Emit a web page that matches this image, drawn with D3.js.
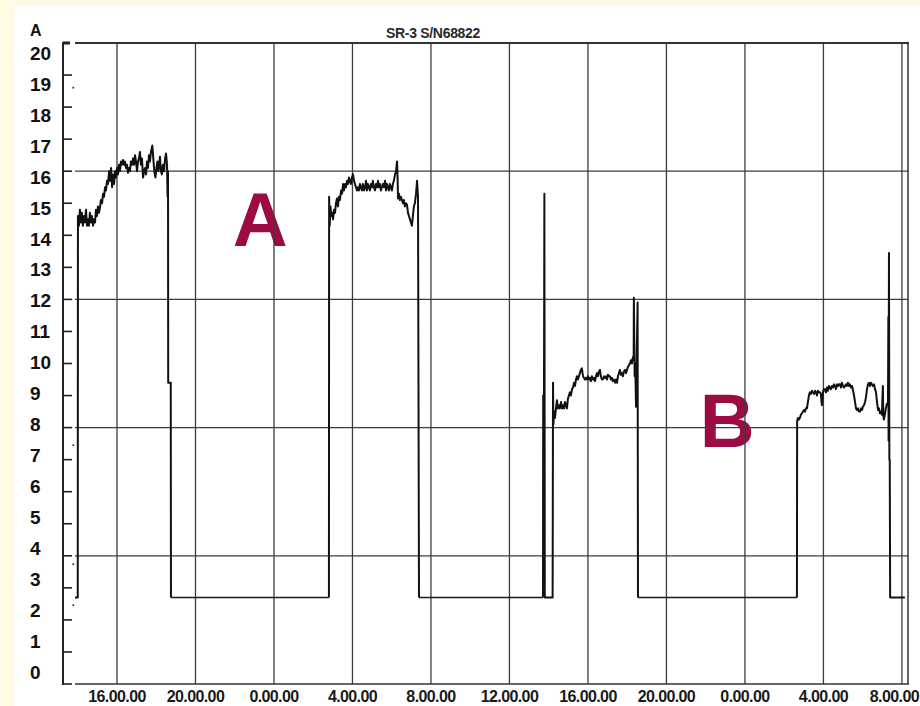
<!DOCTYPE html>
<html>
<head>
<meta charset="utf-8">
<script src="https://cdn.jsdelivr.net/npm/d3@7"></script>
<style>
  body { margin: 0; background: #fffbe3; }
  svg { display: block; }
</style>
</head>
<body>
<div id="chart"></div>
<script>
// chart data (time in hours from day 1 00:00, current in A)
var title = "SR-3 S/N68822";
var unitLabel = "A";
var yTicks = d3.range(0, 21);
var gridAmps = [4, 8, 12, 16];
var xTickHours = [16, 20, 24, 28, 32, 36, 40, 44, 48, 52, 56];
var xTickLabels = ["16.00.00", "20.00.00", "0.00.00", "4.00.00", "8.00.00", "12.00.00",
    "16.00.00", "20.00.00", "0.00.00", "4.00.00", "8.00.00"];

var runA1 = [
    [13.86, 2.7], [14.00, 2.7], [14.01, 14.6], [14.06, 14.3], [14.11, 14.8], [14.16, 14.4],
    [14.21, 14.7], [14.26, 14.3], [14.31, 14.6], [14.37, 14.4], [14.42, 14.8], [14.47, 14.3],
    [14.52, 14.5], [14.57, 14.3], [14.62, 14.7], [14.67, 14.4], [14.72, 14.6], [14.78, 14.3],
    [14.83, 14.5], [14.88, 14.4], [14.93, 14.8], [14.98, 14.6], [15.03, 14.9], [15.08, 14.7],
    [15.13, 14.85], [15.18, 15.1], [15.24, 15.0], [15.29, 15.3], [15.34, 15.2], [15.39, 15.5],
    [15.44, 15.4], [15.49, 15.7], [15.54, 15.6], [15.60, 16.0], [15.65, 15.7], [15.70, 16.1],
    [15.75, 15.5], [15.80, 15.9], [15.85, 15.6], [15.90, 16.0], [15.95, 15.8], [16.00, 16.1],
    [16.05, 15.9], [16.10, 16.2], [16.15, 16.0], [16.20, 16.3], [16.25, 16.2], [16.31, 16.35],
    [16.36, 16.2], [16.41, 16.3], [16.46, 16.1], [16.51, 16.2], [16.56, 15.95], [16.61, 16.1],
    [16.66, 16.0], [16.71, 16.3], [16.76, 16.2], [16.82, 16.4], [16.87, 16.2], [16.92, 16.5],
    [16.97, 16.3], [17.02, 16.0], [17.07, 16.3], [17.12, 16.4], [17.17, 16.6], [17.22, 16.2],
    [17.27, 16.4], [17.33, 15.8], [17.38, 16.0], [17.43, 16.1], [17.48, 15.9], [17.53, 16.3],
    [17.58, 16.1], [17.63, 16.5], [17.68, 16.3], [17.73, 16.6], [17.80, 16.8], [17.85, 16.4],
    [17.90, 16.0], [17.96, 15.8], [18.01, 16.1], [18.06, 16.3], [18.11, 16.0], [18.19, 16.45],
    [18.24, 16.0], [18.29, 15.9], [18.34, 16.2], [18.40, 16.0], [18.45, 16.4], [18.50, 16.55],
    [18.55, 16.2], [18.58, 15.2], [18.60, 16.0], [18.61, 9.4], [18.74, 9.4], [18.75, 2.7]
];

var runA2 = [
    [26.80, 2.7], [26.81, 15.2], [26.84, 14.3], [26.88, 14.9], [26.92, 14.6], [26.96, 14.7],
    [27.01, 14.5], [27.06, 14.8], [27.11, 14.7], [27.16, 15.0], [27.21, 15.15], [27.26, 14.9],
    [27.31, 15.2], [27.36, 15.1], [27.42, 15.4], [27.47, 15.3], [27.52, 15.6], [27.57, 15.4],
    [27.62, 15.6], [27.67, 15.5], [27.72, 15.7], [27.77, 15.6], [27.82, 15.8], [27.87, 15.7],
    [27.92, 15.6], [27.97, 15.8], [28.03, 15.9], [28.08, 15.7], [28.13, 15.6], [28.18, 15.5],
    [28.23, 15.4], [28.28, 15.5], [28.33, 15.4], [28.38, 15.6], [28.43, 15.5], [28.48, 15.4],
    [28.53, 15.6], [28.59, 15.4], [28.64, 15.5], [28.69, 15.7], [28.74, 15.4], [28.79, 15.6],
    [28.84, 15.5], [28.89, 15.4], [28.94, 15.6], [28.99, 15.5], [29.04, 15.7], [29.09, 15.5],
    [29.15, 15.4], [29.20, 15.6], [29.25, 15.5], [29.30, 15.7], [29.35, 15.5], [29.40, 15.6],
    [29.45, 15.4], [29.50, 15.5], [29.55, 15.6], [29.60, 15.5], [29.66, 15.7], [29.71, 15.4],
    [29.76, 15.6], [29.81, 15.5], [29.86, 15.4], [29.91, 15.6], [29.96, 15.5], [30.01, 15.4],
    [30.06, 15.6], [30.11, 15.7], [30.17, 15.9], [30.22, 16.0], [30.27, 16.3], [30.30, 15.8],
    [30.32, 15.15], [30.37, 15.3], [30.42, 15.1], [30.47, 15.2], [30.52, 15.1], [30.57, 15.0],
    [30.62, 15.1], [30.67, 14.9], [30.73, 15.0], [30.78, 14.95], [30.83, 14.7], [30.88, 14.6],
    [30.93, 14.5], [30.98, 14.4], [31.03, 14.3], [31.08, 14.6], [31.13, 14.9], [31.18, 15.0],
    [31.24, 15.3], [31.29, 15.7], [31.34, 15.2], [31.39, 2.7]
];

var runB1 = [
    [37.71, 2.7], [37.72, 9.0], [37.74, 2.8], [37.78, 15.3], [37.80, 2.7], [38.20, 2.7],
    [38.22, 9.4], [38.24, 8.1], [38.27, 8.5], [38.32, 8.3], [38.37, 8.6], [38.42, 8.85],
    [38.47, 8.6], [38.52, 8.7], [38.57, 8.6], [38.63, 8.8], [38.68, 8.6], [38.73, 8.7],
    [38.78, 8.6], [38.83, 8.8], [38.88, 8.7], [38.93, 8.6], [38.98, 8.9], [39.03, 9.0],
    [39.08, 9.1], [39.13, 9.0], [39.19, 9.2], [39.24, 9.25], [39.29, 9.4], [39.34, 9.3],
    [39.39, 9.5], [39.44, 9.6], [39.49, 9.5], [39.54, 9.6], [39.59, 9.7], [39.64, 9.8],
    [39.69, 9.85], [39.75, 9.6], [39.80, 9.55], [39.85, 9.5], [39.90, 9.55], [39.95, 9.5],
    [40.00, 9.6], [40.05, 9.5], [40.10, 9.55], [40.15, 9.45], [40.20, 9.6], [40.26, 9.5],
    [40.31, 9.55], [40.36, 9.45], [40.41, 9.6], [40.46, 9.7], [40.51, 9.6], [40.56, 9.75],
    [40.61, 9.8], [40.66, 9.6], [40.71, 9.5], [40.76, 9.5], [40.82, 9.6], [40.87, 9.55],
    [40.92, 9.6], [40.97, 9.5], [41.02, 9.65], [41.07, 9.6], [41.12, 9.6], [41.17, 9.5],
    [41.22, 9.55], [41.27, 9.45], [41.32, 9.5], [41.38, 9.4], [41.43, 9.5], [41.48, 9.4],
    [41.53, 9.6], [41.58, 9.7], [41.63, 9.8], [41.68, 9.65], [41.73, 9.7], [41.78, 9.6],
    [41.83, 9.75], [41.89, 9.8], [41.94, 9.7], [41.99, 9.8], [42.04, 9.9], [42.09, 9.95],
    [42.14, 10.0], [42.19, 10.1], [42.24, 10.0], [42.29, 10.2], [42.33, 10.1], [42.34, 12.05],
    [42.38, 9.6], [42.41, 10.0], [42.45, 8.65], [42.47, 9.5], [42.50, 10.7], [42.53, 11.9],
    [42.55, 2.7]
];

var runB2 = [
    [50.65, 2.7], [50.66, 8.2], [50.70, 8.3], [50.75, 8.25], [50.80, 8.3], [50.85, 8.4],
    [50.91, 8.45], [50.96, 8.5], [51.01, 8.55], [51.06, 8.5], [51.11, 8.6], [51.16, 8.6],
    [51.21, 8.8], [51.26, 9.0], [51.31, 9.1], [51.36, 9.05], [51.41, 9.15], [51.46, 9.1],
    [51.52, 9.05], [51.57, 9.15], [51.62, 9.1], [51.67, 9.0], [51.72, 9.15], [51.77, 9.1],
    [51.82, 9.1], [51.87, 9.05], [51.92, 8.7], [51.97, 9.1], [52.03, 9.2], [52.08, 9.2],
    [52.13, 9.1], [52.18, 9.25], [52.23, 9.15], [52.28, 9.3], [52.33, 9.25], [52.38, 9.2],
    [52.43, 9.3], [52.49, 9.25], [52.54, 9.35], [52.59, 9.3], [52.64, 9.2], [52.69, 9.35],
    [52.74, 9.3], [52.79, 9.35], [52.84, 9.35], [52.89, 9.25], [52.94, 9.4], [53.00, 9.3],
    [53.05, 9.25], [53.10, 9.3], [53.15, 9.35], [53.20, 9.3], [53.25, 9.4], [53.30, 9.3],
    [53.35, 9.35], [53.41, 9.25], [53.46, 9.3], [53.51, 9.15], [53.56, 9.0], [53.61, 8.8],
    [53.66, 8.6], [53.71, 8.55], [53.76, 8.6], [53.81, 8.5], [53.86, 8.5], [53.92, 8.6],
    [53.97, 8.55], [54.01, 8.65], [54.07, 8.7], [54.12, 8.8], [54.17, 8.95], [54.22, 9.2],
    [54.27, 9.35], [54.32, 9.4], [54.37, 9.3], [54.42, 9.4], [54.47, 9.35], [54.52, 9.3],
    [54.58, 9.35], [54.63, 9.2], [54.68, 9.1], [54.73, 8.8], [54.78, 8.55], [54.83, 8.6],
    [54.88, 8.45], [54.93, 8.5], [54.98, 8.4], [55.03, 9.3], [55.05, 8.4], [55.08, 8.25],
    [55.13, 8.4], [55.18, 8.6], [55.24, 8.75], [55.29, 8.7], [55.31, 11.45], [55.32, 7.6],
    [55.34, 13.45], [55.36, 7.0], [55.38, 7.0], [55.40, 2.7], [56.15, 2.7]
];

// idle current between runs
var idle = [
    [[18.75, 2.7], [26.80, 2.7]],
    [[31.39, 2.7], [37.71, 2.7]],
    [[42.55, 2.7], [50.65, 2.7]]
];

// stray samples next to the axis
var strays = [[13.77, 18.6], [13.77, 7.45], [13.77, 3.74], [13.77, 2.46]];

// annotations
var marks = [
    { label: "A", t: 23.3, a: 14.5 },
    { label: "B", t: 47.1, a: 8.25 }
];

// svg parameters
var svgWidth = 920;
var svgHeight = 706;

var svg = d3.select("#chart")
    .append("svg")
    .attr("width", svgWidth)
    .attr("height", svgHeight);

svg.append("rect")
    .attr("width", svgWidth)
    .attr("height", svgHeight)
    .attr("fill", "#fffbe3");

svg.append("rect")
    .attr("x", 14)
    .attr("y", 6)
    .attr("width", svgWidth - 14)
    .attr("height", svgHeight - 6)
    .attr("fill", "#ffffff");

var xscale = d3.scaleLinear()
    .domain([13.86, 56.31])
    .range([75, 908]);

var yscale = d3.scaleLinear()
    .domain([0, 20])
    .range([684, 43]);

// tick labels are packed a bit tighter than the ticks
var ylabelScale = d3.scaleLinear()
    .domain([0, 20])
    .range([672, 53]);

var gridColor = "#3c3c3c";

// annotation letters sit under the grid
svg.selectAll(".mark")
    .data(marks)
    .enter()
    .append("text")
    .attr("class", "mark")
    .attr("x", d => xscale(d.t))
    .attr("y", d => yscale(d.a) + 27)
    .attr("text-anchor", "middle")
    .style("font-family", "Liberation Sans, Arial, sans-serif")
    .style("font-weight", "bold")
    .style("font-size", "76px")
    .style("fill", "#9c0c42")
    .text(d => d.label);

// vertical grid
svg.selectAll(".vgrid")
    .data(xTickHours)
    .enter()
    .append("line")
    .attr("x1", d => xscale(d))
    .attr("x2", d => xscale(d))
    .attr("y1", yscale(20))
    .attr("y2", yscale(0))
    .attr("stroke", gridColor)
    .attr("stroke-width", 1.3);

// horizontal grid
svg.selectAll(".hgrid")
    .data(gridAmps)
    .enter()
    .append("line")
    .attr("x1", xscale.range()[0])
    .attr("x2", xscale.range()[1])
    .attr("y1", d => yscale(d))
    .attr("y2", d => yscale(d))
    .attr("stroke", gridColor)
    .attr("stroke-width", 1.3);

// frame: top, right, bottom
svg.append("line")
    .attr("x1", 75).attr("x2", 909)
    .attr("y1", yscale(20)).attr("y2", yscale(20))
    .attr("stroke", "#333").attr("stroke-width", 2.2);
svg.append("line")
    .attr("x1", 908).attr("x2", 908)
    .attr("y1", yscale(20)).attr("y2", yscale(0))
    .attr("stroke", "#333").attr("stroke-width", 1.5);
svg.append("line")
    .attr("x1", 75).attr("x2", 909)
    .attr("y1", yscale(0)).attr("y2", yscale(0))
    .attr("stroke", "#333").attr("stroke-width", 1.6);

// y axis with ticks pointing right
var yAxisX = 63;
svg.append("line")
    .attr("x1", yAxisX).attr("x2", yAxisX)
    .attr("y1", yscale(20) - 1).attr("y2", yscale(0) + 1)
    .attr("stroke", "#222").attr("stroke-width", 2);
svg.selectAll(".ytick")
    .data(yTicks)
    .enter()
    .append("line")
    .attr("x1", yAxisX)
    .attr("x2", d => (d === 20 ? yAxisX + 7 : yAxisX + 9))
    .attr("y1", d => yscale(d))
    .attr("y2", d => yscale(d))
    .attr("stroke", "#222")
    .attr("stroke-width", d => (d === 20 ? 3 : 1.6));

svg.selectAll(".ylabel")
    .data(yTicks)
    .enter()
    .append("text")
    .attr("x", 30)
    .attr("y", d => ylabelScale(d))
    .attr("dy", "0.36em")
    .style("font-family", "Liberation Sans, Arial, sans-serif")
    .style("font-weight", "bold")
    .style("font-size", "19px")
    .style("fill", "#111")
    .text(d => d);

svg.append("text")
    .attr("x", 30)
    .attr("y", 36)
    .style("font-family", "Liberation Sans, Arial, sans-serif")
    .style("font-weight", "bold")
    .style("font-size", "16px")
    .style("fill", "#111")
    .text(unitLabel);

// x tick labels, the last one kept inside the picture
var lastTick = xTickHours.length - 1;
svg.selectAll(".xlabel")
    .data(xTickHours)
    .enter()
    .append("text")
    .attr("x", (d, i) => (i === lastTick ? svgWidth - 1 : xscale(d)))
    .attr("y", 702)
    .attr("text-anchor", (d, i) => (i === lastTick ? "end" : "middle"))
    .style("font-family", "Liberation Sans, Arial, sans-serif")
    .style("font-weight", "bold")
    .style("font-size", "16px")
    .style("letter-spacing", "-0.6px")
    .style("fill", "#1a1a1a")
    .text((d, i) => xTickLabels[i]);

// title
svg.append("text")
    .attr("x", 433)
    .attr("y", 38)
    .attr("text-anchor", "middle")
    .style("font-family", "Liberation Sans, Arial, sans-serif")
    .style("font-weight", "bold")
    .style("font-size", "14px")
    .style("letter-spacing", "-0.3px")
    .style("fill", "#2a2a2a")
    .text(title);

// current trace
var line = d3.line()
    .x(d => xscale(d[0]))
    .y(d => yscale(d[1]));

svg.selectAll(".run")
    .data([runA1, runA2, runB1, runB2])
    .enter()
    .append("path")
    .attr("d", line)
    .attr("fill", "none")
    .attr("stroke", "#111")
    .attr("stroke-width", 2)
    .attr("stroke-linejoin", "round");

svg.selectAll(".idle")
    .data(idle)
    .enter()
    .append("path")
    .attr("d", line)
    .attr("fill", "none")
    .attr("stroke", "#1a1a1a")
    .attr("stroke-width", 1.6);

svg.selectAll(".stray")
    .data(strays)
    .enter()
    .append("circle")
    .attr("cx", d => xscale(d[0]))
    .attr("cy", d => yscale(d[1]))
    .attr("r", 1)
    .attr("fill", "#333");
</script>
</body>
</html>
